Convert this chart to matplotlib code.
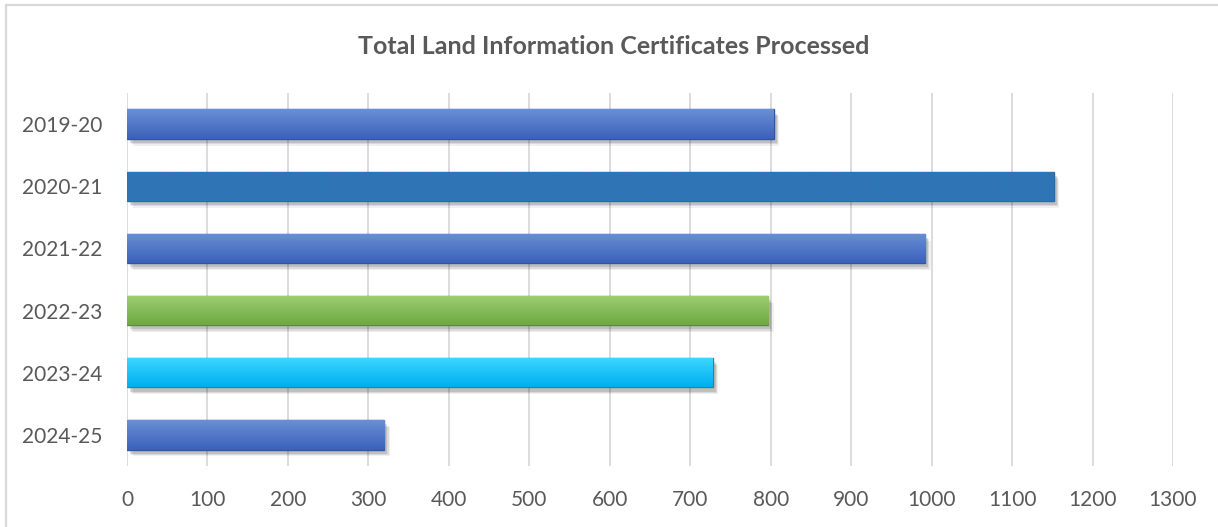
import matplotlib
matplotlib.use("Agg")
import matplotlib.pyplot as plt
import matplotlib.patheffects as pe
from matplotlib.patches import Rectangle
from matplotlib.colors import LinearSegmentedColormap
import numpy as np

categories = ["2019-20", "2020-21", "2021-22", "2022-23", "2023-24", "2024-25"]
values = [804, 1152, 992, 797, 728, 320]
# (top colour, bottom colour, edge colour)
bar_styles = [
    ("#6A8FD6", "#3A62B8", "#2F55A3"),
    ("#2E75B6", "#2E75B6", "#2A6AA6"),
    ("#6A8FD6", "#3A62B8", "#2F55A3"),
    ("#9CCF72", "#6FA844", "#5B8A3A"),
    ("#3CD8FF", "#00AEEF", "#6B6B6B"),
    ("#6A8FD6", "#3A62B8", "#2F55A3"),
]
xticks = list(range(0, 1301, 100))
title = "Total Land Information Certificates Processed"

plt.rcParams['font.family'] = ['Lato', 'DejaVu Sans']

W, H = 1218, 527
fig = plt.figure(figsize=(W / 100, H / 100), dpi=100)
fig.patch.set_facecolor("white")

# outer chart border
fig.patches.append(Rectangle((6 / W, -0.05), 1.1, 1 - 5 / H + 0.05, transform=fig.transFigure,
                             fill=False, edgecolor="#D9D9D9", linewidth=1.6))

ax = fig.add_axes([127 / W, 1 - 466 / H, (1173 - 127) / W, (466 - 93) / H])
ypos = np.arange(len(categories))
bars = ax.barh(ypos, values, height=0.47, zorder=3)

shadow = [pe.SimplePatchShadow(offset=(o, -o - 1), shadow_rgbFace="#000000", alpha=a)
          for o, a in ((4, 0.06), (3, 0.09), (2, 0.12))]

for b, (top, bot, edge) in zip(bars, bar_styles):
    b.set_facecolor(bot)
    b.set_edgecolor(edge)
    b.set_linewidth(1.0)
    b.set_path_effects(shadow + [pe.Normal()])
    x0, y0 = b.get_x(), b.get_y()
    w, h = b.get_width(), b.get_height()
    cmap = LinearSegmentedColormap.from_list("g", [top, bot])
    grad = np.linspace(0, 1, 64).reshape(-1, 1)
    im = ax.imshow(grad, cmap=cmap, aspect="auto", extent=(x0, x0 + w, y0 + h, y0),
                   origin="upper", zorder=3.5, interpolation="bilinear")
    im.set_clip_path(b)

ax.set_xlim(0, 1300)
ax.set_ylim(len(categories) - 0.5, -0.5)
ax.set_xticks(xticks)
ax.set_xticklabels([str(t) for t in xticks])
ax.set_yticks(ypos)
ax.set_yticklabels(categories)
ax.grid(axis="x", color="#D9D9D9", linewidth=1.3, zorder=0)
ax.set_axisbelow(True)
for s in ax.spines.values():
    s.set_visible(False)
ax.tick_params(axis="both", length=0, labelsize=15, labelcolor="#595959")
ax.tick_params(axis="y", pad=18)
ax.tick_params(axis="x", pad=17)

fig.text(0.5 + 5 / W, 1 - 46 / H, title, ha="center", va="center",
         fontsize=18, fontweight="bold", color="#595959")

fig.savefig("out.png", dpi=100, facecolor="white")
